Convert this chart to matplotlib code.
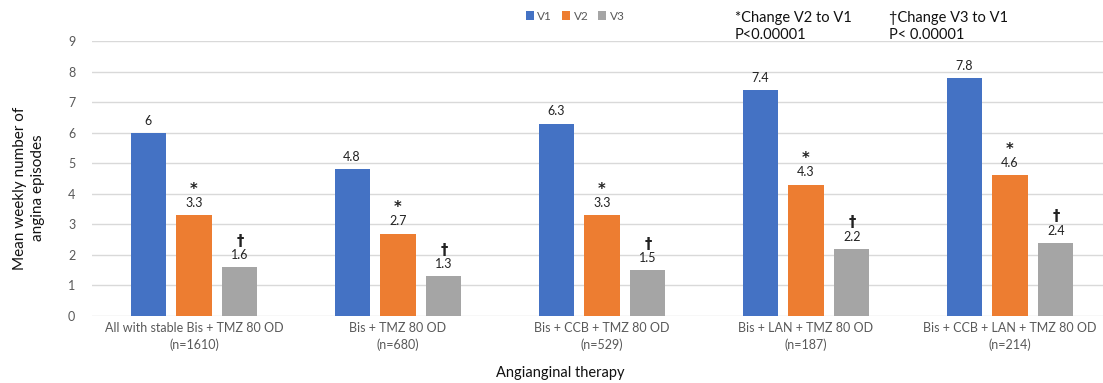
import matplotlib
matplotlib.use("Agg")
import matplotlib.pyplot as plt
import numpy as np

categories = ["All with stable Bis + TMZ 80 OD\n(n=1610)", "Bis + TMZ 80 OD\n(n=680)",
              "Bis + CCB + TMZ 80 OD\n(n=529)", "Bis + LAN + TMZ 80 OD\n(n=187)",
              "Bis + CCB + LAN + TMZ 80 OD\n(n=214)"]
v1 = [6, 4.8, 6.3, 7.4, 7.8]
v2 = [3.3, 2.7, 3.3, 4.3, 4.6]
v3 = [1.6, 1.3, 1.5, 2.2, 2.4]
series_names = ["V1", "V2", "V3"]
colors = ["#4472C4", "#ED7D31", "#A5A5A5"]
marks = [None, "*", "\u2020"]
yticks = list(range(0, 10))

plt.rcParams['font.family'] = ['Lato', 'DejaVu Sans']
W, H = 1103, 383
fig = plt.figure(figsize=(W / 100, H / 100), dpi=100)
ax = fig.add_axes([92 / W, 1 - 316 / H, 1020 / W, 275 / H])

x = np.arange(len(categories))
bw = 0.172
offs = [-0.225, 0, 0.225]
for s, (vals, name, c, mk) in enumerate(zip([v1, v2, v3], series_names, colors, marks)):
    ax.bar(x + offs[s], vals, width=bw, color=c, label=name, zorder=3)
    for xi, v in zip(x + offs[s], vals):
        ax.text(xi, v + 0.2, f"{v:g}", ha="center", va="bottom", fontsize=9, color="#222222")
        if mk:
            ax.text(xi, v + 0.6, mk, ha="center", va="bottom", fontsize=10.5,
                    color="#222222", fontweight="bold", family=['DejaVu Sans'])

ax.set_xlim(-0.5, len(categories) - 0.5)
ax.set_ylim(0, 9)
ax.set_yticks(yticks)
ax.set_xticks(x)
ax.set_xticklabels(categories, fontsize=9, color="#595959", linespacing=1.5)
ax.tick_params(axis="y", labelsize=9, colors="#595959", length=0, pad=12)
ax.tick_params(axis="x", length=0, pad=4)
ax.grid(axis="y", color="#D9D9D9", linewidth=1, zorder=0)
for sp in ax.spines.values():
    sp.set_visible(False)

fig.text(29 / W, 1 - 188 / H, "Mean weekly number of\nangina episodes", rotation=90,
         ha="center", va="center", fontsize=11, color="#111111", linespacing=1.45)
fig.text(560 / W, 1 - 373 / H, "Angianginal therapy", ha="center", va="center",
         fontsize=10.5, color="#111111")

leg = fig.legend(loc="center", bbox_to_anchor=(575 / W, 1 - 16 / H), ncol=3, frameon=False,
                 fontsize=8.5, handlelength=0.7, handleheight=0.7, columnspacing=0.8,
                 handletextpad=0.3, labelcolor="#595959")

fig.text(735 / W, 1 - 18 / H, "*Change V2 to V1", ha="left", va="center", fontsize=10.5, color="#111111")
fig.text(735 / W, 1 - 35 / H, "P<0.00001", ha="left", va="center", fontsize=10.5, color="#111111")
fig.text(889 / W, 1 - 18 / H, "\u2020Change V3 to V1", ha="left", va="center", fontsize=10.5,
         color="#111111", family=['Lato', 'DejaVu Sans'])
fig.text(889 / W, 1 - 35 / H, "P< 0.00001", ha="left", va="center", fontsize=10.5, color="#111111")

fig.savefig("out.png", dpi=100)
